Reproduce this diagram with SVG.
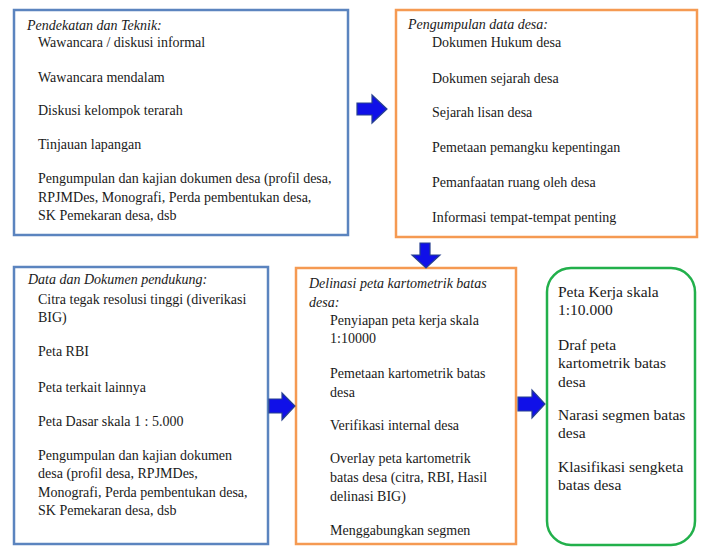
<svg xmlns="http://www.w3.org/2000/svg" width="703" height="547" viewBox="0 0 703 547">
<style>
text{font-family:'Liberation Serif','Times New Roman','DejaVu Serif',serif;font-size:14px;fill:#1a1a1a}
.i{font-style:italic}
.g{font-size:15.5px}
.bb{fill:#fff;stroke:#5b84bf;stroke-width:2.5}
.ob{fill:#fff;stroke:#f59a52;stroke-width:2.5}
.gb{fill:#fff;stroke:#22b04b;stroke-width:2.5}
.ar{fill:#1010e8;stroke:#27408f;stroke-width:1.2;stroke-linejoin:miter}
</style>
<rect width="703" height="547" fill="#fff"/>
<g id="pendekatan" font-family="Liberation Serif, serif">
<rect class="bb" x="14" y="10" width="334" height="225"/>
<text class="i" x="27" y="30">Pendekatan dan Teknik:</text>
<text x="38" y="47">Wawancara / diskusi informal</text>
<text x="38" y="82">Wawancara mendalam</text>
<text x="38" y="115">Diskusi kelompok terarah</text>
<text x="38" y="149">Tinjauan lapangan</text>
<text x="38" y="183">Pengumpulan dan kajian dokumen desa (profil desa,</text>
<text x="38" y="202">RPJMDes, Monografi, Perda pembentukan desa,</text>
<text x="38" y="220">SK Pemekaran desa, dsb</text>
</g>
<g id="pengumpulan">
<rect class="ob" x="396" y="10" width="301" height="227"/>
<text class="i" x="408" y="29">Pengumpulan data desa:</text>
<text x="432" y="47">Dokumen Hukum desa</text>
<text x="432" y="83">Dokumen sejarah desa</text>
<text x="432" y="117">Sejarah lisan desa</text>
<text x="432" y="152">Pemetaan pemangku kepentingan</text>
<text x="432" y="187">Pemanfaatan ruang oleh desa</text>
<text x="432" y="222">Informasi tempat-tempat penting</text>
</g>
<g id="data">
<rect class="bb" x="14" y="267" width="254" height="277"/>
<text class="i" x="28" y="284">Data dan Dokumen pendukung:</text>
<text x="38" y="304">Citra tegak resolusi tinggi (diverikasi</text>
<text x="38" y="322">BIG)</text>
<text x="38" y="356">Peta RBI</text>
<text x="38" y="392">Peta terkait lainnya</text>
<text x="38" y="426">Peta Dasar skala 1 : 5.000</text>
<text x="38" y="460">Pengumpulan dan kajian dokumen</text>
<text x="38" y="478">desa (profil desa, RPJMDes,</text>
<text x="38" y="497">Monografi, Perda pembentukan desa,</text>
<text x="38" y="515">SK Pemekaran desa, dsb</text>
</g>
<g id="delinasi">
<rect class="ob" x="296" y="268" width="220" height="276"/>
<text class="i" x="309" y="288">Delinasi peta kartometrik batas</text>
<text class="i" x="309" y="307">desa:</text>
<text x="330" y="325">Penyiapan peta kerja skala</text>
<text x="330" y="343">1:10000</text>
<text x="330" y="378">Pemetaan kartometrik batas</text>
<text x="330" y="397">desa</text>
<text x="330" y="430">Verifikasi internal desa</text>
<text x="330" y="463">Overlay peta kartometrik</text>
<text x="330" y="482">batas desa (citra, RBI, Hasil</text>
<text x="330" y="501">delinasi BIG)</text>
<text x="330" y="535">Menggabungkan segmen</text>
</g>
<g id="hasil">
<rect class="gb" x="547" y="268" width="148" height="277" rx="24" ry="24"/>
<text class="g" x="558" y="297">Peta Kerja skala</text>
<text class="g" x="558" y="315">1:10.000</text>
<text class="g" x="558" y="350">Draf peta</text>
<text class="g" x="558" y="368">kartometrik batas</text>
<text class="g" x="558" y="387">desa</text>
<text class="g" x="558" y="420">Narasi segmen batas</text>
<text class="g" x="558" y="438">desa</text>
<text class="g" x="558" y="472">Klasifikasi sengketa</text>
<text class="g" x="558" y="490">batas desa</text>
</g>
<g id="connectors">
<polygon class="ar" points="357,103 372,103 372,95 387,109 372,123 372,115 357,115"/>
<polygon class="ar" points="420,243 430,243 430,255 440,255 426,268 412,255 420,255"/>
<polygon class="ar" points="269,399 282,399 282,393 295,406 282,420 282,413 269,413"/>
<polygon class="ar" points="518,397 532,397 532,390 545,404 532,418 532,411 518,411"/>
</g>
</svg>
